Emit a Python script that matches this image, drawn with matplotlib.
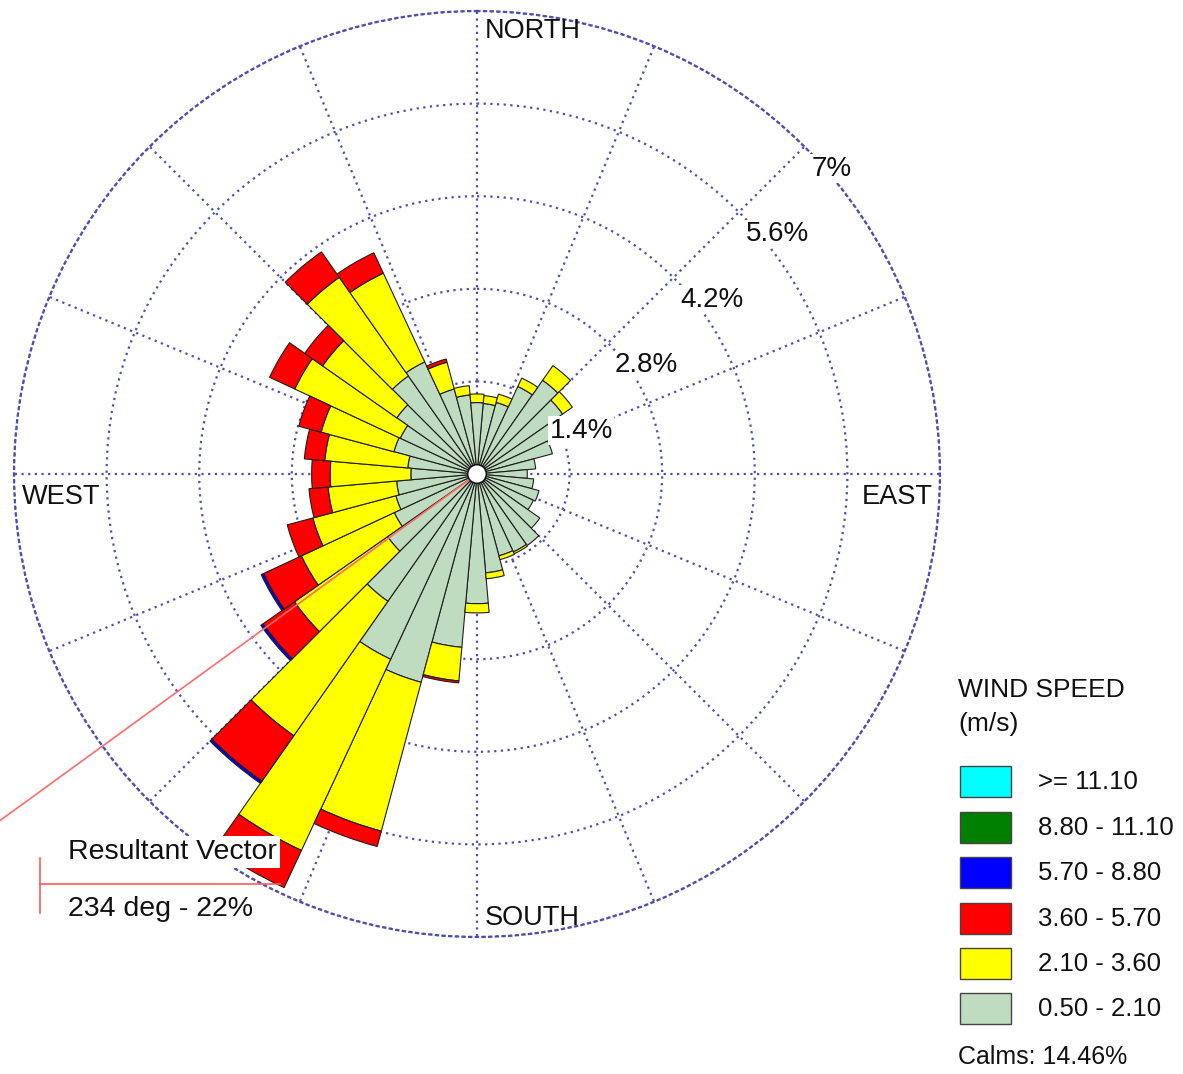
import numpy as np
import matplotlib
matplotlib.use('Agg')
import matplotlib.pyplot as plt
from matplotlib.patches import Rectangle, Circle
from matplotlib.lines import Line2D
import matplotlib.transforms as mtransforms

plt.rcParams['font.family'] = ['Liberation Sans', 'DejaVu Sans']

# ---------------- data ----------------
directions = list(range(10, 370, 10))  # degrees, direction wind blows from
speed_labels = ['0.50 - 2.10', '2.10 - 3.60', '3.60 - 5.70',
                '5.70 - 8.80', '8.80 - 11.10', '>= 11.10']
speed_colors = ['#c0dcc0', '#ffff00', '#ff0000', '#0000ff', '#008000', '#00ffff']

freq_050_210 = [1.07, 1.12, 1.46, 1.73, 1.58, 1.32, 1.18, 0.89, 0.76, 0.86, 0.97, 0.94,
                1.16, 1.32, 1.30, 1.28, 1.50, 1.96, 2.63, 3.26, 3.09, 2.35, 1.65, 1.38,
                1.27, 1.22, 1.00, 1.05, 1.30, 1.28, 1.48, 1.81, 1.87, 1.33, 1.20, 1.08]
freq_210_360 = [0.12, 0.13, 0.14, 0.27, 0.18, 0, 0, 0, 0, 0, 0, 0,
                0, 0, 0.03, 0.06, 0.09, 0.14, 0.51, 2.33, 3.19, 2.48, 1.72, 1.55,
                1.30, 1.04, 1.22, 1.26, 1.14, 1.76, 1.37, 1.82, 1.48, 0.42, 0.14, 0.13]
freq_360_570 = [0, 0, 0, 0, 0, 0, 0, 0, 0, 0, 0, 0,
                0, 0, 0, 0, 0, 0, 0.03, 0.24, 0.62, 0.84, 0.58, 0.63,
                0.40, 0.29, 0.28, 0.31, 0.35, 0.42, 0.33, 0.47, 0.34, 0.05, 0, 0]
freq_570_880 = [0, 0, 0, 0, 0, 0, 0, 0, 0, 0, 0, 0,
                0, 0, 0, 0, 0, 0, 0, 0, 0, 0.04, 0.04, 0.04,
                0, 0, 0, 0, 0, 0, 0, 0, 0, 0, 0, 0]
freq_880_1110 = [0] * 36
freq_ge_1110 = [0] * 36

ring_values = [1.4, 2.8, 4.2, 5.6, 7.0]
ring_labels = ['1.4%', '2.8%', '4.2%', '5.6%', '7%']
calms_text = 'Calms: 14.46%'
resultant_dir = 234
resultant_text = '234 deg - 22%'

# ---------------- figure ----------------
W, H = 1183, 1074
fig = plt.figure(figsize=(W / 100, H / 100), dpi=100)
fig.patch.set_facecolor('white')

def fx(x):
    return x / W

def fy(y):
    return 1 - y / H

CX, CY, R = 477, 474, 463
ax = fig.add_axes([fx(CX - R), fy(CY + R), 2 * R / W, 2 * R / H], projection='polar')
ax.set_theta_zero_location('N')
ax.set_theta_direction(-1)
ax.set_ylim(0, 7.0)
ax.set_rgrids(ring_values, labels=[''] * len(ring_values))
ax.set_thetagrids(np.arange(0, 360, 22.5), labels=[''] * 16)
grid_color = '#4e4eb0'
ax.grid(True, color=grid_color, linestyle=(0, (1, 2.0)), linewidth=1.6)
ax.spines['polar'].set_color(grid_color)
ax.spines['polar'].set_linestyle((0, (1, 2.0)))
ax.spines['polar'].set_linewidth(1.6)
ax.set_axisbelow(True)
ax.tick_params(length=0)

HOLE = 0.14
theta = np.deg2rad(directions)
width = np.deg2rad(10)
series = [freq_050_210, freq_210_360, freq_360_570, freq_570_880, freq_880_1110, freq_ge_1110]
cum = np.zeros(len(directions))
for vals, col in zip(series, speed_colors):
    vals = np.array(vals, dtype=float)
    top = cum + vals
    mask = vals > 0
    bottom = np.maximum(cum, HOLE)
    ax.bar(theta[mask], (top - bottom)[mask], width=width, bottom=bottom[mask],
           color=col, edgecolor='#1e1e1e', linewidth=0.8, zorder=3)
    cum = top

# calm circle
ax.add_patch(Circle((0.5, 0.5), HOLE / 7.0 * 0.5, transform=ax.transAxes,
                    facecolor='white', edgecolor='#111111', linewidth=1.0, zorder=5))

# resultant vector line
th = np.deg2rad(resultant_dir)
ax.plot([th, th], [0.05, 10.0], color='#ff6a6a', linewidth=1.2, clip_on=False, zorder=4)

# ring labels along the NE diagonal
for rv, lab in zip(ring_values, ring_labels):
    tr = mtransforms.offset_copy(ax.transData, fig=fig, x=7, y=-9, units='dots')
    ax.text(np.deg2rad(45), rv, lab, transform=tr, ha='left', va='top',
            fontsize=20, color='#111111', zorder=6,
            bbox=dict(facecolor='white', edgecolor='none', pad=1.0))

# compass labels
fig.text(fx(485), fy(31), 'NORTH', ha='left', va='center', fontsize=19.5, color='#111111')
fig.text(fx(485), fy(918), 'SOUTH', ha='left', va='center', fontsize=19.5, color='#111111')
fig.text(fx(22), fy(497), 'WEST', ha='left', va='center', fontsize=19.5, color='#111111')
fig.text(fx(933), fy(497), 'EAST', ha='right', va='center', fontsize=19.5, color='#111111')

# resultant vector legend
fig.add_artist(Line2D([fx(40), fx(40)], [fy(858), fy(913)], color='#ff5a5a', linewidth=1.2))
fig.add_artist(Line2D([fx(40), fx(280)], [fy(884), fy(884)], color='#ff5a5a', linewidth=1.2))
fig.text(fx(68), fy(852), 'Resultant Vector', ha='left', va='center', fontsize=20.5,
         color='#111111', bbox=dict(facecolor='white', edgecolor='none', pad=2))
fig.text(fx(68), fy(909), resultant_text, ha='left', va='center', fontsize=20.5, color='#111111')

# wind speed legend
fig.text(fx(958), fy(690), 'WIND SPEED', ha='left', va='center', fontsize=19, color='#111111')
fig.text(fx(958), fy(724), '(m/s)', ha='left', va='center', fontsize=19, color='#111111')
box_tops = [766, 812, 857, 903, 948, 993]
for i, top in enumerate(box_tops):
    k = len(speed_labels) - 1 - i
    fig.add_artist(Rectangle((fx(960), fy(top + 31)), 51 / W, 31 / H,
                             facecolor=speed_colors[k], edgecolor='#444444', linewidth=1.0))
    fig.text(fx(1038), fy(top + 16), speed_labels[k], ha='left', va='center',
             fontsize=18.5, color='#111111')
fig.text(fx(958), fy(1057), calms_text, ha='left', va='center', fontsize=18, color='#111111')

fig.savefig('out.png', dpi=100, facecolor='white')
